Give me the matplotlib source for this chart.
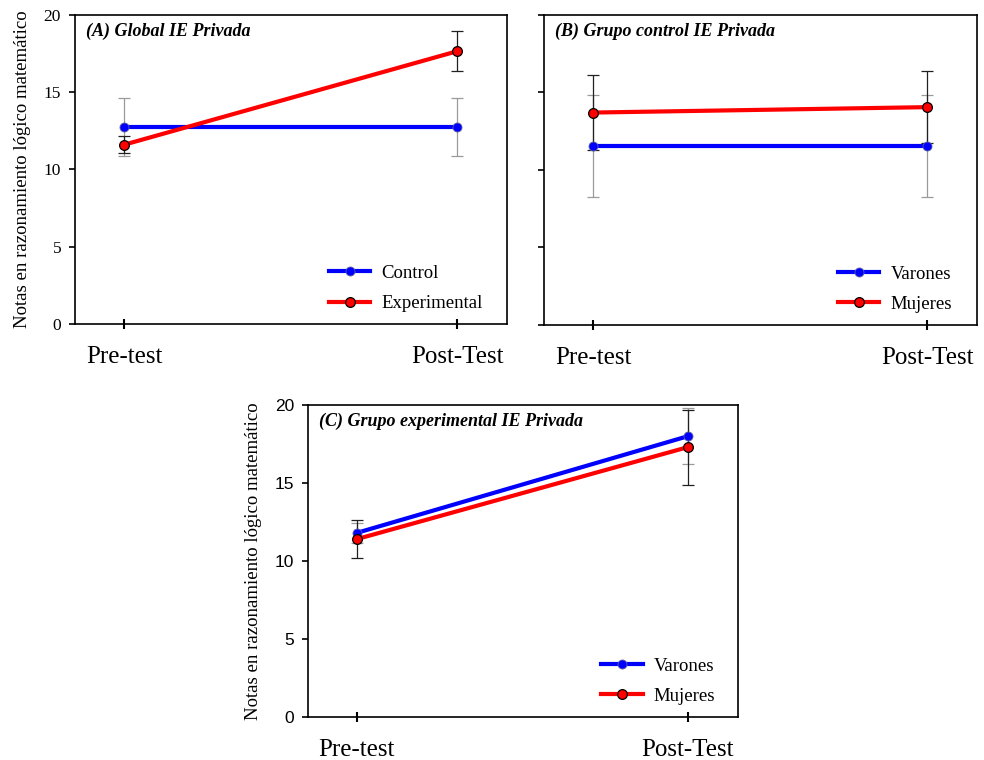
import matplotlib.pyplot as plt

# Notas medias (y error) por momento de evaluación
momentos = ['Pre-test', 'Post-Test']

# (A) Global IE Privada
control_media = [12.75, 12.75]
control_err = [1.85, 1.85]
experimental_media = [11.6, 17.65]
experimental_err = [0.55, 1.3]

# (B) Grupo control IE Privada
b_varones_media = [11.55, 11.55]
b_varones_err = [3.3, 3.3]
b_mujeres_media = [13.7, 14.05]
b_mujeres_err = [2.4, 2.3]

# (C) Grupo experimental IE Privada
c_varones_media = [11.8, 18.0]
c_varones_err = [0.65, 1.8]
c_mujeres_media = [11.4, 17.3]
c_mujeres_err = [1.2, 2.4]

SERIF = 'Liberation Serif'
SANS = 'Liberation Sans'
YLABEL = 'Notas en razonamiento lógico matemático'


def dibujar_panel(ax, titulo, azul, rojo, etiquetas, leg_x, tick_font=SERIF, ylabels=True):
    x = list(range(len(momentos)))
    (m_az, e_az), (m_ro, e_ro) = azul, rojo
    # barras de error primero
    ax.errorbar(x, m_az, yerr=e_az, fmt='none', ecolor='#9a9a9a', elinewidth=0.9,
                capsize=4, capthick=0.9, zorder=1)
    ax.errorbar(x, m_ro, yerr=e_ro, fmt='none', ecolor='#202020', elinewidth=0.9,
                capsize=4, capthick=0.9, zorder=1)
    ax.plot(x, m_az, color='#0000ff', lw=3, marker='o', ms=6.5, mfc='#0000ff',
            mec='#6060a0', mew=0.6, label=etiquetas[0], zorder=2)
    ax.plot(x, m_ro, color='#ff0000', lw=3, marker='o', ms=7, mfc='#ff0000',
            mec='black', mew=0.9, label=etiquetas[1], zorder=3)

    ax.set_xlim(-0.147, 1.15)
    ax.set_ylim(0, 20)
    ax.set_yticks([0, 5, 10, 15, 20])
    ax.set_xticks(x)
    ax.set_xticklabels(momentos, fontfamily=SERIF, fontsize=18)
    ax.tick_params(axis='x', direction='inout', length=7, width=1.5, pad=12)
    ax.tick_params(axis='y', direction='out', length=4, width=1.2, pad=6)
    if ylabels:
        for t in ax.get_yticklabels():
            t.set_fontfamily(tick_font)
            t.set_fontsize(12.5)
        ax.set_ylabel(YLABEL, fontfamily=SERIF, fontsize=13.5, labelpad=9)
    else:
        ax.set_yticklabels([])
    for s in ax.spines.values():
        s.set_linewidth(1.2)

    ax.text(0.025, 0.948, titulo, transform=ax.transAxes, fontfamily=SERIF,
            fontweight='bold', fontstyle='italic', fontsize=13, va='center')

    leg = ax.legend(loc='center left', bbox_to_anchor=(leg_x, 0.115), frameon=False,
                    borderpad=0, borderaxespad=0, handlelength=2.2, handletextpad=0.6,
                    labelspacing=0.7, prop={'family': SERIF, 'size': 13.5})
    return leg


fig = plt.figure(figsize=(9.84, 7.6), dpi=100)

axA = fig.add_axes([0.0762, 0.5737, 0.439, 0.4066])
dibujar_panel(axA, '(A) Global IE Privada',
              (control_media, control_err), (experimental_media, experimental_err),
              ['Control', 'Experimental'], 0.588)

axB = fig.add_axes([0.553, 0.5724, 0.44, 0.408])
dibujar_panel(axB, '(B) Grupo control IE Privada',
              (b_varones_media, b_varones_err), (b_mujeres_media, b_mujeres_err),
              ['Varones', 'Mujeres'], 0.679, ylabels=False)

axC = fig.add_axes([0.313, 0.0566, 0.4366, 0.4105])
dibujar_panel(axC, '(C) Grupo experimental IE Privada',
              (c_varones_media, c_varones_err), (c_mujeres_media, c_mujeres_err),
              ['Varones', 'Mujeres'], 0.683, tick_font=SANS)

fig.savefig('out.png', dpi=100)
